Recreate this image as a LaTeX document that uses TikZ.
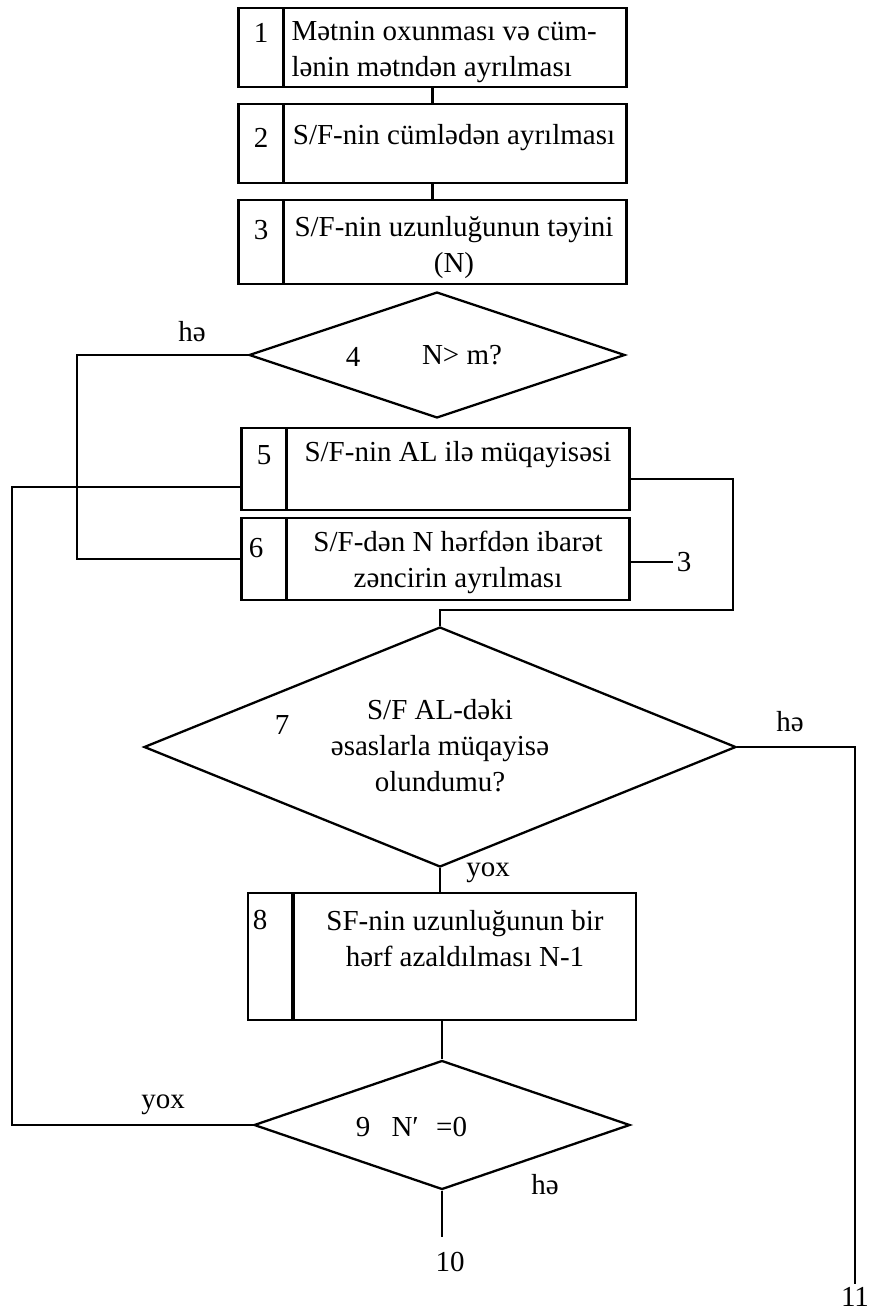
\documentclass[tikz,border=0pt]{standalone}
\usepackage{fontspec}
\setmainfont{Liberation Serif}
\usetikzlibrary{shapes.geometric}
\begin{document}
\begin{tikzpicture}[x=1pt, y=-1pt,
every node/.style={font=\fontsize{29}{36}\selectfont},
box/.style={draw, line width=2.6pt, inner sep=0pt, minimum width=388pt,
  path picture={\draw[line width=3.2pt] ([xshift=45pt]path picture bounding box.north west) -- ([xshift=45pt]path picture bounding box.south west);}},
dec/.style={draw, diamond, line width=2.3pt, inner sep=0pt},
ln/.style={line width=2.6pt}]
\useasboundingbox (0,0) rectangle (871,1312);
% blocks
\node[box, minimum height=79pt] (b1) at (432.5,47.5) {};
\node[box, minimum height=79pt] (b2) at (432.5,143.5) {};
\node[box, minimum height=84pt] (b3) at (432.5,242) {};
\node[dec, minimum width=376pt, minimum height=126pt] (d4) at (437,355) {};
\node[box, minimum height=82pt] (b5) at (435.5,469) {};
\node[box, minimum height=82pt] (b6) at (435.5,559) {};
\node[dec, minimum width=592pt, minimum height=240pt] (d7) at (440,747) {};
\node[box, minimum height=127pt] (b8) at (442,956.5) {};
\node[dec, minimum width=376pt, minimum height=129pt] (d9) at (442,1125) {};
% texts
\node (n1) at (261,33) {1};
\node[align=left, anchor=west] (t1) at (288,52) {Mətnin oxunması və cüm-\\lənin mətndən ayrılması};
\node (n2) at (261,138) {2};
\node (t2) at (454,138) {S/F-nin cümlədən ayrılması};
\node (n3) at (261,230) {3};
\node[align=center] (t3) at (454,247.5) {S/F-nin uzunluğunun təyini\\(N)};
\node (n4) at (353,357) {4};
\node (t4) at (462,355) {N> m?};
\node (n5) at (264,455) {5};
\node (t5) at (458,455) {S/F-nin AL ilə müqayisəsi};
\node (n6) at (256,548) {6};
\node[align=center] (t6) at (458,562) {S/F-dən N hərfdən ibarət\\zəncirin ayrılması};
\node (n7) at (282,725) {7};
\node[align=center] (t7) at (440,746) {S/F AL-dəki\\əsaslarla müqayisə\\olundumu?};
\node (n8) at (260,920) {8};
\node[align=center] (t8) at (465,939) {SF-nin uzunluğunun bir\\hərf azaldılması N-1};
\node (n9) at (363,1127) {9};
\node[anchor=west] (t9) at (388,1127) {N′\hspace{0.6em}=0};
% labels
\node (l4) at (192,332) {hə};
\node (l7y) at (488,873) {yox};
\node (l7h) at (790,722) {hə};
\node (l9y) at (163,1105) {yox};
\node (l9h) at (545,1185) {hə};
\node (o3) at (684,562) {3};
\node[inner sep=1pt] (o10) at (450,1262) {10};
\node (o11) at (855,1297) {11};
\coordinate (k4) at (77,0);
\coordinate (k9) at (12,0);
\coordinate (k5) at (733,610);
% connectors
\draw[ln] (b1) -- (b2);
\draw[ln] (b2) -- (b3);
\draw[ln] (d4.west) -- (d4.west -| k4) |- (b6.west);
\draw[ln] (d9.west) -- (d9.west -| k9) |- ([yshift=-18pt]b5.west);
\draw[ln] ([yshift=-10pt]b5.east) -| (k5) -| (d7.north);
\draw[ln] ([yshift=-3pt]b6.east) -- ([yshift=-3pt]b6.east -| o3.west);
\draw[ln] (d7.east) -| (o11.north);
\draw[ln] (d7.south) -- (d7.south |- b8.north);
\draw[ln] (b8.south) -- (d9.north);
\draw[ln] (d9.south) -- ([yshift=14pt]d9.south |- o10.north);
\end{tikzpicture}
\end{document}
